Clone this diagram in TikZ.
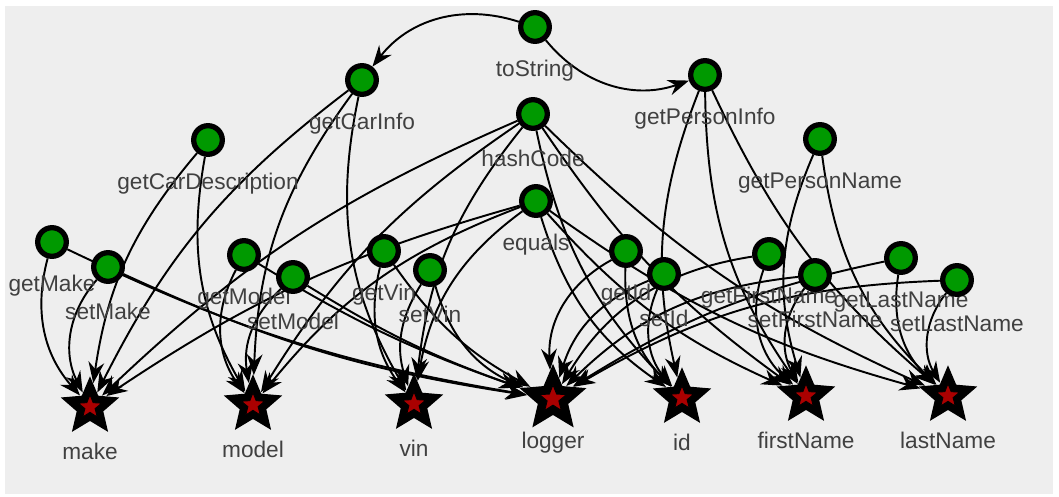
\documentclass[tikz,border=0pt]{standalone}
\usepackage{fontspec}
\setmainfont{Liberation Sans}
\usetikzlibrary{arrows.meta,shapes.geometric}
\definecolor{methgreen}{RGB}{0,153,0}
\definecolor{fieldred}{RGB}{170,0,0}
\definecolor{panel}{RGB}{238,238,238}
\definecolor{lbltext}{RGB}{64,64,64}
\pgfdeclarelayer{bg}
\pgfdeclarelayer{links}
\pgfsetlayers{bg,links,main}
\tikzset{
  lbl/.style={text=lbltext, font=\fontsize{12.9}{15}\selectfont, inner sep=0pt, anchor=base, yshift=-25pt},
  meth/.style={circle, draw=black, line width=3pt, fill=methgreen, minimum size=16.3pt, inner sep=0pt,
    label={[lbl]center:#1}},
  redstar/.style={star, star points=5, star point ratio=2.3, fill=fieldred, draw=black, line width=0.5pt,
    inner sep=0pt, minimum size=#1},
  fld/.style 2 args={star, star points=5, star point ratio=2.2, fill=black, inner sep=0pt, minimum size=#2,
    label={[redstar=0.4*#2]center:}, label={[lbl]center:#1}},
  dep/.style={line width=1.1pt, -{Stealth[length=12pt,width=9pt,inset=4pt]}}
}
\begin{document}
\begin{tikzpicture}[x=0.02cm, y=-0.02cm]
    \useasboundingbox (0,0) rectangle (1059,497);
    \begin{pgfonlayer}{bg}
        \fill[panel] (5,6) rectangle (1053,494);
    \end{pgfonlayer}

    \node[meth=toString] (toString) at (535,27) {};
    \node[meth=getCarInfo] (getCarInfo) at (362,80) {};
    \node[meth=getPersonInfo] (getPersonInfo) at (705,75) {};
    \node[meth=hashCode] (hashCode) at (533,114) {};
    \node[meth=getCarDescription] (getCarDescription) at (208,140) {};
    \node[meth=getPersonName] (getPersonName) at (820,139) {};
    \node[meth=equals] (equals) at (536,201) {};
    \node[meth=getMake] (getMake) at (52,242) {};
    \node[meth=setMake] (setMake) at (108,267) {};
    \node[meth=getModel] (getModel) at (244,255) {};
    \node[meth=setModel] (setModel) at (293,277) {};
    \node[meth=getVin] (getVin) at (384,251) {};
    \node[meth=setVin] (setVin) at (430,270) {};
    \node[meth=getId] (getId) at (626,251) {};
    \node[meth=setId] (setId) at (664,274) {};
    \node[meth=getFirstName] (getFirstName) at (769,254) {};
    \node[meth=setFirstName] (setFirstName) at (815,275) {};
    \node[meth=getLastName] (getLastName) at (901,258) {};
    \node[meth=setLastName] (setLastName) at (957,280) {};

    \node[fld={make}{35pt}] (make) at (90,407) {};
    \node[fld={model}{35pt}] (model) at (253,405) {};
    \node[fld={vin}{35pt}] (vin) at (414,404) {};
    \node[fld={logger}{40pt}] (logger) at (553,399) {};
    \node[fld={id}{35pt}] (id) at (682,398) {};
    \node[fld={firstName}{35pt}] (firstName) at (806,396) {};
    \node[fld={lastName}{35pt}] (lastName) at (948,396) {};

    \begin{pgfonlayer}{links}
        \draw[dep] (toString) to[bend right=35] (getCarInfo);
        \draw[dep] (toString) to[bend right=35] (getPersonInfo);

        \draw[dep] (getCarInfo) to[bend right=13] (make);
        \draw[dep] (getCarInfo) to[bend right=17] (model);
        \draw[dep] (getCarInfo) to[bend right=21] (vin);
        \draw[dep] (getCarDescription) to[bend right=16] (make);
        \draw[dep] (getCarDescription) to[bend right=20] (model);
        \draw[dep] (getPersonInfo) to[bend right=17] (id);
        \draw[dep] (getPersonInfo) to[bend right=17] (firstName);
        \draw[dep] (getPersonInfo) to[bend right=12] (lastName);
        \draw[dep] (getPersonName) to[bend right=20] (firstName);
        \draw[dep] (getPersonName) to[bend right=19] (lastName);

        \draw[dep] (hashCode) to[bend right=10] (make);
        \draw[dep] (hashCode) to[bend right=12] (model);
        \draw[dep] (hashCode) to[bend right=16] (vin);
        \draw[dep] (hashCode) to[bend right=16] (id);
        \draw[dep] (hashCode) to[bend right=10] (firstName);
        \draw[dep] (hashCode) to[bend right=10] (lastName);
        \draw[dep] (equals) to[bend right=9] (make);
        \draw[dep] (equals) to[bend right=15] (model);
        \draw[dep] (equals) to[bend right=22] (vin);
        \draw[dep] (equals) to[bend right=19] (id);
        \draw[dep] (equals) to[bend right=12] (firstName);
        \draw[dep] (equals) to[bend right=10] (lastName);

        \draw[dep] (getMake) to[bend right=28] (make);
        \draw[dep] (getMake) to[bend right=8] (logger);
        \draw[dep] (setMake) to[bend right=34] (make);
        \draw[dep] (setMake) to[bend right=8] (logger);
        \draw[dep] (getModel) to[bend right=32] (model);
        \draw[dep] (getModel) to[bend right=6] (logger);
        \draw[dep] (setModel) to[bend right=28] (model);
        \draw[dep] (setModel) to[bend right=6] (logger);
        \draw[dep] (getVin) to[bend right=25] (vin);
        \draw[dep] (getVin) to[bend right=13] (logger);
        \draw[dep] (setVin) to[bend right=25] (vin);
        \draw[dep] (setVin) to[bend right=25] (logger);

        \draw[dep] (getId) to[bend right=23] (id);
        \draw[dep] (getId) to[bend right=32] (logger);
        \draw[dep] (setId) to[bend right=32] (id);
        \draw[dep] (setId) to[bend right=25] (logger);
        \draw[dep] (getFirstName) to[bend right=34] (firstName);
        \draw[dep] (getFirstName) to[bend right=25] (logger);
        \draw[dep] (setFirstName) to[bend right=34] (firstName);
        \draw[dep] (setFirstName) to[bend right=19] (logger);
        \draw[dep] (getLastName) to[bend right=28] (lastName);
        \draw[dep] (getLastName) to[bend right=10] (logger);
        \draw[dep] (setLastName) to[bend right=35] (lastName);
        \draw[dep] (setLastName) to[bend right=14] (logger);
    \end{pgfonlayer}
\end{tikzpicture}
\end{document}
